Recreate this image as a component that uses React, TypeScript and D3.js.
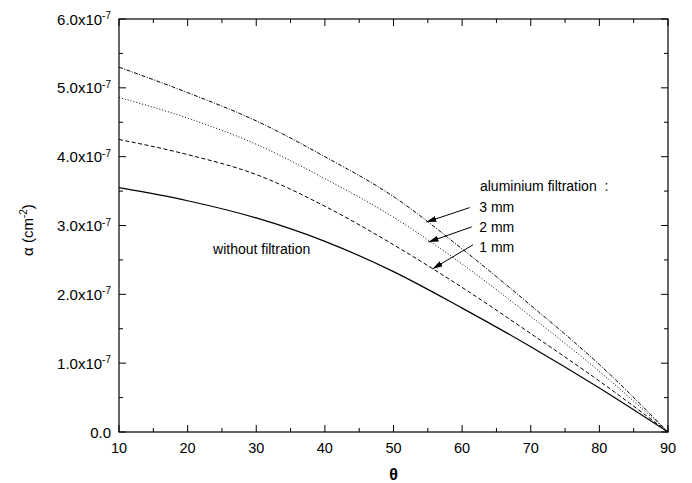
import React from "react";
import * as d3 from "d3";

// theta (degrees)
const thetas = [10, 20, 30, 40, 50, 60, 70, 80, 90];
// alpha values in units of 1e-7 cm^-2
const noFiltration = [3.55, 3.36, 3.11, 2.77, 2.33, 1.8, 1.24, 0.64, 0];
const al1mm = [4.25, 4.03, 3.74, 3.28, 2.72, 2.1, 1.43, 0.74, 0];
const al2mm = [4.86, 4.56, 4.18, 3.68, 3.12, 2.44, 1.68, 0.88, 0];
const al3mm = [5.3, 4.93, 4.52, 4.0, 3.42, 2.66, 1.84, 0.98, 0];

const xTicks = [10, 20, 30, 40, 50, 60, 70, 80, 90];
const xMinor = [15, 25, 35, 45, 55, 65, 75, 85];
const yTicks = [0, 1, 2, 3, 4, 5, 6];
const yMinor = [0.5, 1.5, 2.5, 3.5, 4.5, 5.5];

// annotations in data coordinates
const arrowLabels = ["3 mm", "2 mm", "1 mm"];
const arrowTails = [[61.1, 3.26], [61.4, 2.98], [61.6, 2.72]];
const arrowTips = [[54.8, 3.05], [55.1, 2.76], [55.7, 2.37]];
const labelPos = [[62.5, 3.2], [62.5, 2.91], [62.5, 2.62]];

const W = 692, H = 483;
const L = 119, R = 668, T = 19, B = 432;
const font = "'Liberation Sans', Arial, Helvetica, sans-serif";

export default function App() {
  const x = d3.scaleLinear().domain([10, 90]).range([L, R]);
  const y = d3.scaleLinear().domain([0, 6]).range([B, T]);
  const line = d3
    .line<number>()
    .x((_, i) => x(thetas[i]))
    .y((d) => y(d))
    .curve(d3.curveMonotoneX);

  const series = [
    { v: noFiltration, dash: "none", w: 1.2 },
    { v: al1mm, dash: "4,2.5", w: 1 },
    { v: al2mm, dash: "1,2", w: 1 },
    { v: al3mm, dash: "4,1.5,1,1.5", w: 1 },
  ];

  return (
    <svg width={W} height={H} style={{ position: "absolute", left: 0, top: 0, background: "#fff" }} fontFamily={font}>
      <defs>
        <marker id="ah" viewBox="0 0 10 6" refX="10" refY="3" markerWidth="10" markerHeight="6" markerUnits="userSpaceOnUse" orient="auto">
          <path d="M0,0 L10,3 L0,6 Z" fill="#000" />
        </marker>
      </defs>
      {/* curves */}
      {series.map((s, i) => (
        <path key={i} d={line(s.v) || ""} fill="none" stroke="#000" strokeWidth={s.w} strokeDasharray={s.dash} />
      ))}
      {/* frame */}
      <rect x={L} y={T} width={R - L} height={B - T} fill="none" stroke="#000" strokeWidth={1.2} />
      {/* x ticks */}
      {xTicks.map((t) => (
        <g key={"x" + t}>
          <line x1={x(t)} x2={x(t)} y1={B} y2={B - 7} stroke="#000" />
          <line x1={x(t)} x2={x(t)} y1={T} y2={T + 7} stroke="#000" />
          <text x={x(t)} y={B + 21} textAnchor="middle" fontSize={14.5}>{t}</text>
        </g>
      ))}
      {xMinor.map((t) => (
        <g key={"xm" + t}>
          <line x1={x(t)} x2={x(t)} y1={B} y2={B - 4} stroke="#000" />
          <line x1={x(t)} x2={x(t)} y1={T} y2={T + 4} stroke="#000" />
        </g>
      ))}
      {/* y ticks */}
      {yTicks.map((t) => (
        <g key={"y" + t}>
          <line x1={L} x2={L + 7} y1={y(t)} y2={y(t)} stroke="#000" />
          <line x1={R} x2={R - 7} y1={y(t)} y2={y(t)} stroke="#000" />
          <text x={111} y={y(t) + 5.5} textAnchor="end" fontSize={15}>
            {t === 0 ? "0.0" : (
              <>
                {t.toFixed(1) + "x10"}
                <tspan fontSize={10} dy={-5.5}>-7</tspan>
              </>
            )}
          </text>
        </g>
      ))}
      {yMinor.map((t) => (
        <g key={"ym" + t}>
          <line x1={L} x2={L + 4} y1={y(t)} y2={y(t)} stroke="#000" />
          <line x1={R} x2={R - 4} y1={y(t)} y2={y(t)} stroke="#000" />
        </g>
      ))}
      {/* axis titles */}
      <text x={(L + R) / 2} y={480} textAnchor="middle" fontSize={16} fontWeight="bold">θ</text>
      <text transform={`translate(33,230) rotate(-90)`} textAnchor="middle" fontSize={15}>
        α (cm<tspan fontSize={10} dy={-6}>-2</tspan><tspan dy={6}>)</tspan>
      </text>
      {/* annotations */}
      <text x={x(23.7)} y={y(2.59)} fontSize={14}>without filtration</text>
      <text x={x(62.6)} y={y(3.5)} fontSize={14} style={{ whiteSpace: "pre" }}>{"aluminium filtration  :"}</text>
      {arrowLabels.map((lab, i) => (
        <g key={lab}>
          <text x={x(labelPos[i][0])} y={y(labelPos[i][1])} fontSize={14}>{lab}</text>
          <line
            x1={x(arrowTails[i][0])}
            y1={y(arrowTails[i][1])}
            x2={x(arrowTips[i][0])}
            y2={y(arrowTips[i][1])}
            stroke="#000"
            strokeWidth={1}
            markerEnd="url(#ah)"
          />
        </g>
      ))}
    </svg>
  );
}
